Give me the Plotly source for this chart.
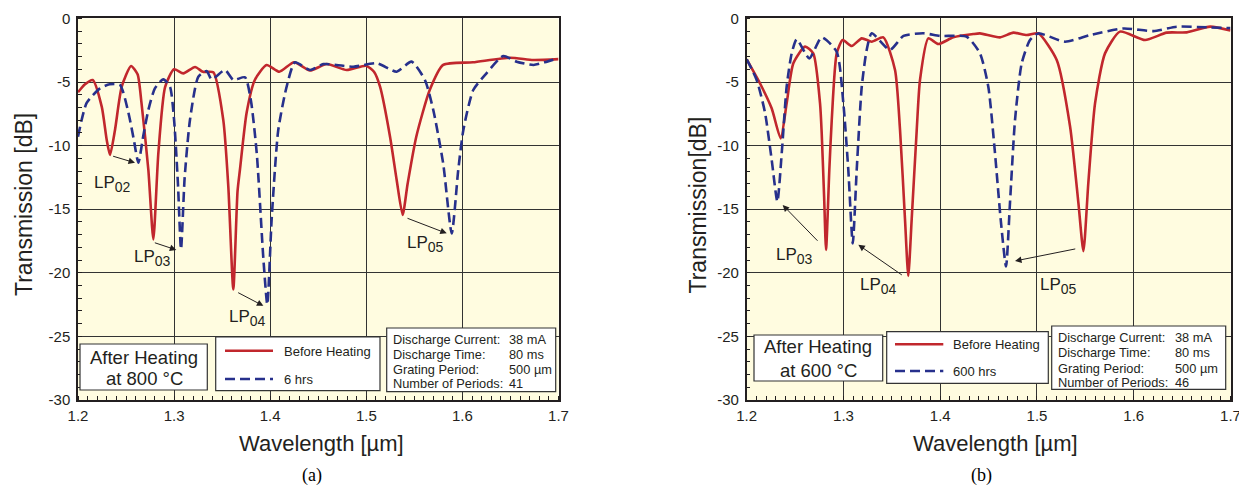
import plotly.graph_objects as go

W, H = 1239, 495

# ---------------- data ----------------
# Panel (a): after heating at 800 C
wl_a_before = [1.200, 1.207, 1.2153, 1.2247, 1.2299, 1.2333, 1.2385, 1.2455, 1.2552, 1.262, 1.266,
               1.2732, 1.2784, 1.2836, 1.2906, 1.2999, 1.3096, 1.3218, 1.330, 1.3408, 1.3512,
               1.3564, 1.3616, 1.366, 1.3685, 1.3755, 1.384, 1.3963, 1.4095, 1.4248, 1.4414,
               1.4588, 1.4796, 1.4997, 1.508, 1.5143, 1.5247, 1.5316, 1.5378, 1.543, 1.552,
               1.566, 1.580, 1.611, 1.6495, 1.6738, 1.700]
tr_a_before = [-5.8, -5.2, -4.84, -6.94, -9.56, -10.74, -8.77, -5.37, -3.74, -4.4, -6.6,
               -11.9, -17.37, -10.6, -5.4, -4.0, -4.32, -3.82, -4.2, -4.24, -8.0,
               -13.2, -21.3, -13.6, -11.9, -7.4, -4.84, -3.66, -4.19, -3.45, -4.1,
               -3.59, -4.06, -3.72, -4.2, -5.37, -9.3, -12.7, -15.46, -13.0, -9.3,
               -5.63, -3.66, -3.45, -3.09, -3.27, -3.2]

wl_a_6h = [1.200, 1.209, 1.2229, 1.233, 1.2437, 1.2524, 1.258, 1.2628, 1.268, 1.2732, 1.280,
           1.2888, 1.2957, 1.300, 1.304, 1.3072, 1.311, 1.3165, 1.3252, 1.3339, 1.339, 1.353,
           1.3616, 1.3738, 1.380, 1.386, 1.3929, 1.397, 1.4015, 1.4084, 1.4171, 1.4258,
           1.4414, 1.4553, 1.469, 1.4865, 1.511, 1.5316, 1.547, 1.561, 1.5697, 1.580, 1.5889,
           1.5957, 1.601, 1.6113, 1.625, 1.6425, 1.6564, 1.674, 1.688, 1.700]
tr_a_6h = [-9.3, -6.65, -5.5, -5.18, -5.23, -7.4, -9.5, -11.34, -9.2, -7.2, -5.5,
           -4.79, -5.37, -8.0, -13.0, -18.15, -12.5, -7.99, -4.58, -4.14, -4.79, -4.06,
           -4.84, -4.63, -6.5, -10.6, -18.9, -22.5, -15.8, -8.77, -5.37, -3.45,
           -4.06, -3.59, -3.66, -3.8, -3.53, -4.19, -3.4, -4.84, -7.2, -11.4, -16.9,
           -11.9, -8.77, -5.63, -4.32, -2.96, -3.4, -3.66, -3.4, -3.14]

# Panel (b): after heating at 600 C
wl_b_before = [1.200, 1.2137, 1.2258, 1.2351, 1.2413, 1.2482, 1.2603, 1.2688, 1.2758, 1.2775,
               1.2800, 1.282, 1.2854, 1.2879, 1.293, 1.2992, 1.3085, 1.3189, 1.3292, 1.3412,
               1.3533, 1.3585, 1.3636, 1.367, 1.3705, 1.3757, 1.3791, 1.3877, 1.398, 1.4135,
               1.4342, 1.4411, 1.4618, 1.4756, 1.4894, 1.5014, 1.5204, 1.5342, 1.5428, 1.548,
               1.5531, 1.560, 1.5703, 1.5858, 1.6117, 1.634, 1.6548, 1.679, 1.700]
tr_b_before = [-3.22, -5.1, -7.07, -9.43, -6.68, -3.53, -2.22, -2.75, -6.68, -9.0,
               -14.0, -18.2, -11.9, -7.99, -2.75, -1.7, -2.17, -1.57, -1.83, -1.49,
               -4.06, -8.8, -15.8, -20.25, -15.8, -8.8, -4.84, -1.57, -2.01, -1.49,
               -1.23, -1.18, -1.49, -1.12, -1.31, -1.18, -3.27, -8.5, -14.5, -18.3,
               -12.9, -6.68, -2.75, -1.04, -1.7, -1.12, -1.1, -0.65, -0.96]

wl_b_600h = [1.200, 1.2103, 1.2189, 1.2258, 1.2317, 1.2362, 1.2413, 1.2465, 1.2517, 1.2647,
             1.2775, 1.293, 1.2999, 1.305, 1.3096, 1.3137, 1.3189, 1.324, 1.3292, 1.348,
             1.362, 1.3826, 1.3998, 1.4274, 1.4411, 1.4497, 1.4566, 1.4625, 1.468, 1.4721,
             1.4773, 1.4842, 1.4928, 1.5014, 1.529, 1.5548, 1.5893, 1.6203, 1.6444, 1.6755, 1.700]
tr_b_600h = [-3.22, -4.84, -7.4, -11.1, -14.4, -10.6, -5.37, -2.75, -1.64, -3.14,
             -1.49, -2.62, -6.68, -11.9, -17.7, -11.9, -5.37, -2.48, -1.17, -2.48,
             -1.38, -1.17, -1.38, -1.44, -2.75, -5.37, -10.6, -15.8, -19.5, -14.5,
             -7.99, -3.53, -1.7, -1.18, -1.83, -1.31, -0.79, -1.0, -0.65, -0.7, -0.76]

x_tickvals = [1.2, 1.3, 1.4, 1.5, 1.6, 1.7]
x_ticktext = ["1.2", "1.3", "1.4", "1.5", "1.6", "1.7"]
y_tickvals = [-30, -25, -20, -15, -10, -5, 0]
y_ticktext = ["-30", "-25", "-20", "-15", "-10", "-5", "0"]

# mode labels: (text, label x, label y, arrow tail x, tail y, arrow head x, head y)
modes_a = [("02", 1.2364, -13.0, 1.235, -10.8, 1.2593, -11.35),
           ("03", 1.277, -18.8, 1.2784, -17.6, 1.3023, -18.2),
           ("04", 1.376, -23.55, 1.3651, -21.5, 1.3929, -22.6),
           ("05", 1.5611, -17.7, 1.5413, -15.67, 1.5837, -16.9)]
modes_b = [("03", 1.2499, -18.68, 1.2747, -17.6, 1.2372, -14.67),
           ("04", 1.3357, -21.03, 1.3619, -20.25, 1.3154, -17.8),
           ("05", 1.5218, -21.03, 1.5411, -18.1, 1.4773, -19.07)]

param_labels = ["Discharge Current:", "Discharge Time:", "Grating Period:", "Number of Periods:"]
param_values_a = ["38 mA", "80 ms", "500 µm", "41"]
param_values_b = ["38 mA", "80 ms", "500 µm", "46"]

# ---------------- style ----------------
RED = "#C1272D"
BLUE = "#27308C"
INK = "#231F20"
BG = "#FFFCE0"
SANS = "Liberation Sans, Arial, sans-serif"
SERIF = "Liberation Serif, Times New Roman, serif"


def PX(x):
    return x / W


def PY(y):
    return 1 - y / H


fig = go.Figure()

line_red = dict(color=RED, width=2.6, shape="spline", smoothing=0.6)
line_blue = dict(color=BLUE, width=2.6, dash="10px,5px", shape="spline", smoothing=0.6)

fig.add_trace(go.Scatter(x=wl_a_before, y=tr_a_before, mode="lines", line=line_red,
                         name="Before Heating", xaxis="x", yaxis="y", showlegend=False))
fig.add_trace(go.Scatter(x=wl_a_6h, y=tr_a_6h, mode="lines", line=line_blue,
                         name="6 hrs", xaxis="x", yaxis="y", showlegend=False))
fig.add_trace(go.Scatter(x=wl_b_before, y=tr_b_before, mode="lines", line=line_red,
                         name="Before Heating", xaxis="x2", yaxis="y2", showlegend=False))
fig.add_trace(go.Scatter(x=wl_b_600h, y=tr_b_600h, mode="lines", line=line_blue,
                         name="600 hrs", xaxis="x2", yaxis="y2", showlegend=False))

ydom = [PY(400), PY(18.4)]

xaxis_common = dict(range=[1.2, 1.7], tickvals=x_tickvals, ticktext=x_ticktext,
                    showgrid=True, gridcolor="#333", gridwidth=1, zeroline=False,
                    showline=True, mirror=True, linecolor=INK, linewidth=1.5,
                    ticks="", ticklabelstandoff=1, automargin=False, ticklabeloverflow="allow",
                    tickfont=dict(family=SANS, size=15, color=INK),
                    minor=dict(dtick=0.01, tick0=1.2, ticks="inside", ticklen=4,
                               tickcolor=INK, tickwidth=1, showgrid=False))
yaxis_common = dict(range=[-30, 0], tickvals=y_tickvals, ticktext=y_ticktext,
                    showgrid=True, gridcolor="#333", gridwidth=1, zeroline=False,
                    showline=True, mirror=True, linecolor=INK, linewidth=1.5,
                    ticks="", ticklabelstandoff=3, automargin=False, ticklabeloverflow="allow",
                    tickfont=dict(family=SANS, size=15, color=INK),
                    minor=dict(dtick=1, tick0=0, ticks="inside", ticklen=4,
                               tickcolor=INK, tickwidth=1, showgrid=False),
                    domain=ydom)

fig.update_layout(
    width=W, height=H, margin=dict(l=0, r=0, t=0, b=0, pad=0, autoexpand=False),
    paper_bgcolor="white", plot_bgcolor=BG,
    font=dict(family=SANS, color=INK),
    xaxis=dict(domain=[PX(78), PX(558.5)], anchor="y", **xaxis_common),
    yaxis=dict(anchor="x", **yaxis_common),
    xaxis2=dict(domain=[PX(746.7), PX(1230.5)], anchor="y2", **xaxis_common),
    yaxis2=dict(anchor="x2", **yaxis_common),
    showlegend=False,
)

annotations = []
shapes = []


def ptxt(x, y, s, size, family=SANS, angle=0, color=INK):
    annotations.append(dict(x=PX(x), y=PY(y), xref="paper", yref="paper", text=s,
                            textangle=angle, showarrow=False, xanchor="center", yanchor="middle",
                            font=dict(family=family, size=size, color=color)))


# axis titles and panel labels
ptxt(24, 205, "Transmission [dB]", 23, angle=-90)
ptxt(697.5, 205, "Transmission[dB]", 23, angle=-90)
ptxt(321, 443, "Wavelength [µm]", 22)
ptxt(995, 443, "Wavelength [µm]", 22)
ptxt(311.7, 475, "(a)", 18, family=SERIF, color="black")
ptxt(981.7, 475, "(b)", 18, family=SERIF, color="black")

# mode labels with arrows
for modes, xr, yr in [(modes_a, "x", "y"), (modes_b, "x2", "y2")]:
    for sub, lx, ly, tx, ty, hx, hy in modes:
        annotations.append(dict(x=lx, y=ly, xref=xr, yref=yr, showarrow=False,
                                xanchor="center", yanchor="middle",
                                text="LP<sub><span style='font-size:14px'>%s</span></sub>" % sub,
                                font=dict(family=SANS, size=17, color=INK)))
        annotations.append(dict(x=hx, y=hy, xref=xr, yref=yr, ax=tx, ay=ty, axref=xr, ayref=yr,
                                text="", showarrow=True, arrowhead=2, arrowsize=1.3,
                                arrowwidth=1, arrowcolor=INK, standoff=0, startstandoff=0))


def box(x0, y0, x1, y1):
    shapes.append(dict(type="rect", xref="paper", yref="paper", x0=PX(x0), x1=PX(x1),
                       y0=PY(y1), y1=PY(y0), fillcolor="white",
                       line=dict(color="#333", width=1.2), layer="above"))


def txt(x, y, s, size, xanchor="left"):
    annotations.append(dict(x=PX(x), y=PY(y), xref="paper", yref="paper", text=s,
                            showarrow=False, xanchor=xanchor, yanchor="middle",
                            font=dict(family=SANS, size=size, color=INK)))


panels = [
    dict(heat=(80, 344, 207.3, 390), heat_cx=144.2, heat_y=(357, 378), temp="at 800 °C",
         leg=(215.7, 337, 380, 390.7), s0=225, s1=273, ly=(350.7, 379), ltx=281.7,
         lnames=("Before Heating", "6 hrs"),
         par=(386.7, 328, 555.7, 391.7), plx=390.7, pvx=506.7, pys=(339, 354, 369, 383.5),
         vals=param_values_a),
    dict(heat=(754, 335, 882.7, 381), heat_cx=818, heat_y=(346.5, 370), temp="at 600 °C",
         leg=(886.7, 331.7, 1048.3, 383.3), s0=895, s1=943.3, ly=(344.3, 371), ltx=950.7,
         lnames=("Before Heating", "600 hrs"),
         par=(1051.7, 326, 1225.7, 389.3), plx=1056, pvx=1173.3, pys=(337, 352.5, 368.3, 382.5),
         vals=param_values_b),
]

for p in panels:
    box(*p["heat"])
    txt(p["heat_cx"], p["heat_y"][0], "After Heating", 18.5, "center")
    txt(p["heat_cx"], p["heat_y"][1], p["temp"], 18.5, "center")
    box(*p["leg"])
    shapes.append(dict(type="line", xref="paper", yref="paper", x0=PX(p["s0"]), x1=PX(p["s1"]),
                       y0=PY(p["ly"][0]), y1=PY(p["ly"][0]), line=dict(color=RED, width=2.6), layer="above"))
    shapes.append(dict(type="line", xref="paper", yref="paper", x0=PX(p["s0"]), x1=PX(p["s1"]),
                       y0=PY(p["ly"][1]), y1=PY(p["ly"][1]),
                       line=dict(color=BLUE, width=2.6, dash="10px,5px"), layer="above"))
    txt(p["ltx"], p["ly"][0] + 0.5, p["lnames"][0], 13)
    txt(p["ltx"], p["ly"][1] + 0.5, p["lnames"][1], 13)
    box(*p["par"])
    for lab, val, yy in zip(param_labels, p["vals"], p["pys"]):
        txt(p["plx"], yy, lab, 12.8)
        txt(p["pvx"], yy, val, 12.8)

fig.update_layout(annotations=annotations, shapes=shapes)

fig.write_html("out.html")
